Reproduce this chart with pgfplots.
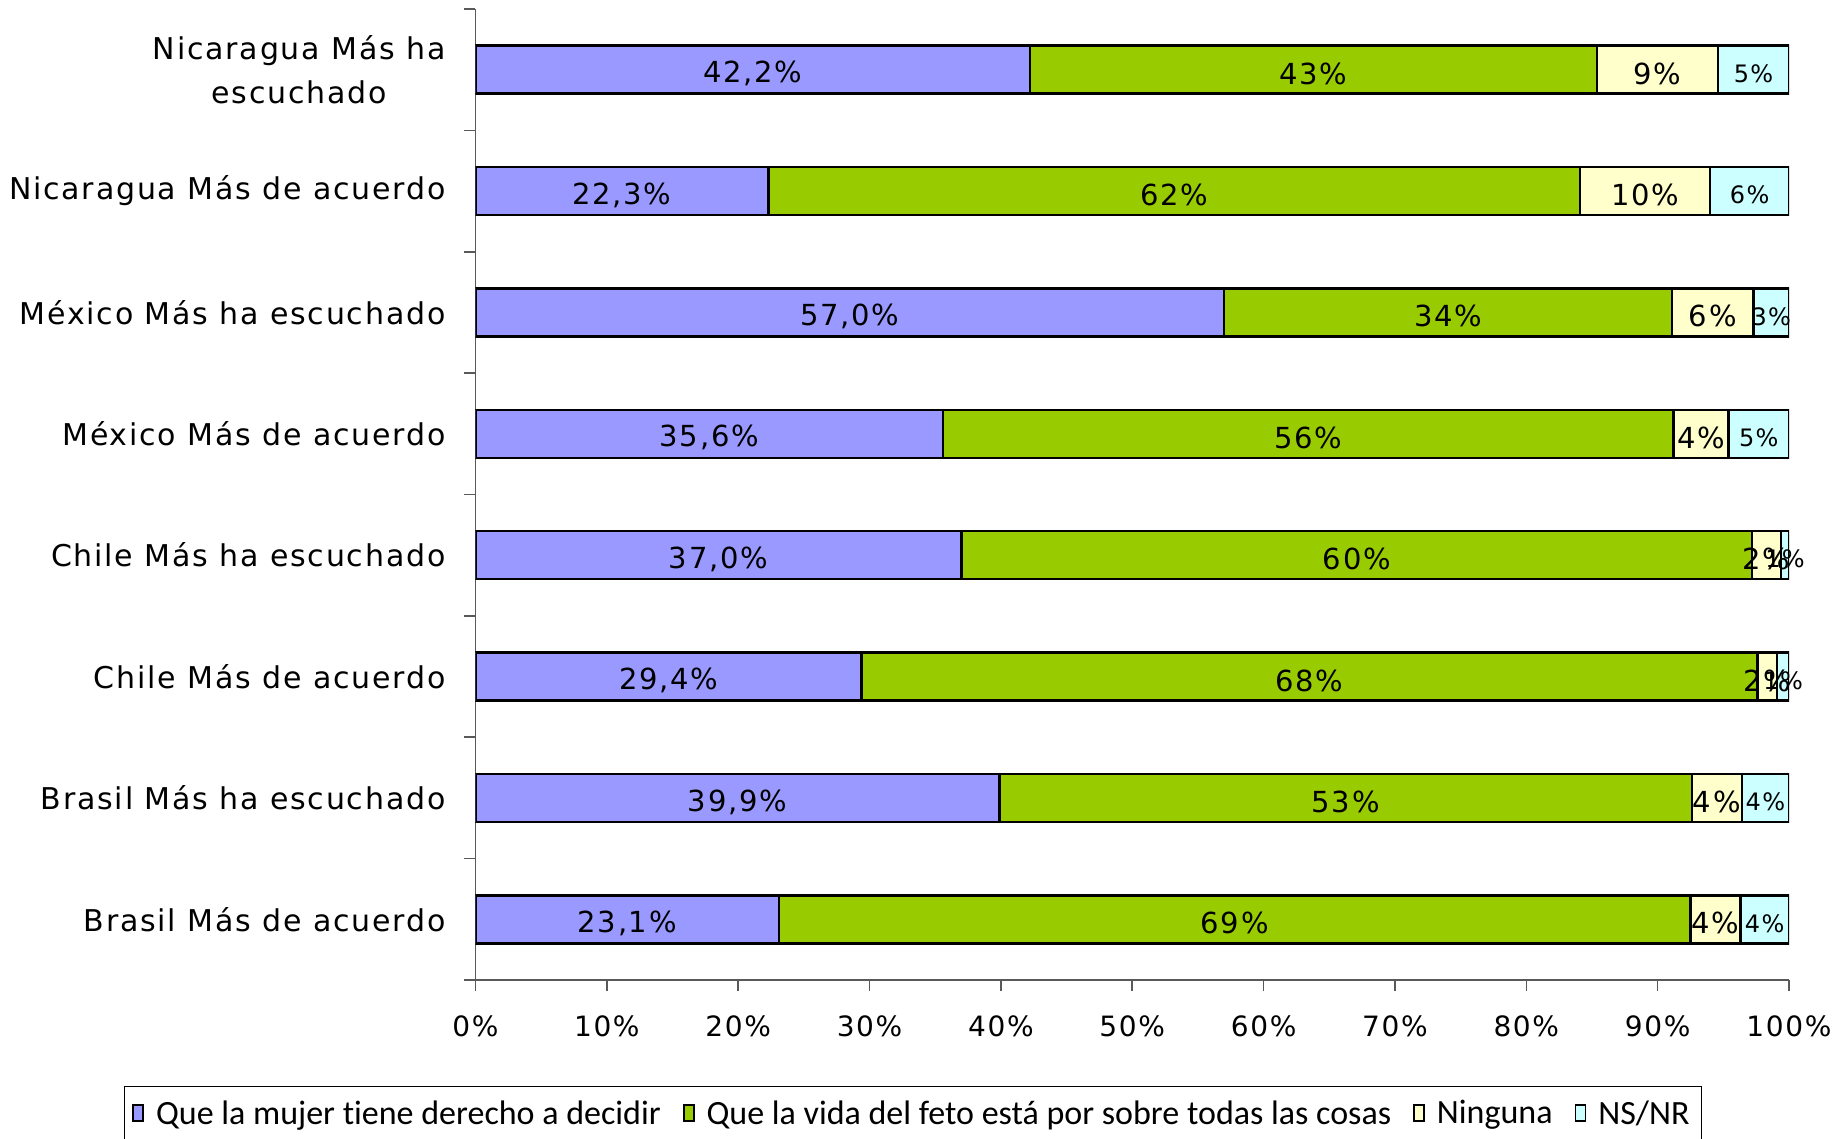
\documentclass[border=0pt]{standalone}
\usepackage{fontspec}
\setmainfont[LetterSpace=6]{DejaVu Sans}
\newfontfamily\legfont[Ligatures=NoCommon]{Carlito}
\usepackage{pgfplots}
\pgfplotsset{compat=1.18}

\definecolor{cdecide}{HTML}{9999FF}
\definecolor{cfeto}{HTML}{99CC00}
\definecolor{cning}{HTML}{FFFFCC}
\definecolor{cnsnr}{HTML}{CCFFFF}

\begin{document}
\begin{tikzpicture}
\path[use as bounding box] (-237.75pt,-79.5pt) rectangle (682.75pt,490pt);
\begin{axis}[
  xbar stacked,
  scale only axis,
  width=656.75pt, height=485.5pt,
  xmin=0, xmax=100,
  ymin=-0.5, ymax=7.5,
  bar width=24pt,
  axis x line*=bottom,
  axis y line*=left,
  axis line style={black!65, line width=0.8pt},
  tick align=outside,
  major tick length=5.5pt,
  xtick={0,10,...,100},
  xticklabel={\pgfmathprintnumber{\tick}\%},
  tick style={black!65, line width=0.8pt},
  ytick={-0.5,0.5,...,7.5},
  y tick label as interval,
  yticklabels={Brasil Más de acuerdo, Brasil Más ha escuchado, Chile Más de acuerdo, Chile Más ha escuchado, México Más de acuerdo, México Más ha escuchado, Nicaragua Más de acuerdo, {Nicaragua Más ha\\escuchado}},
  yticklabel style={align=center, xshift=-6pt, font=\fontsize{15}{22}\selectfont},
  xticklabel style={yshift=-9pt, font=\fontsize{14}{17}\selectfont},
  /pgf/number format/assume math mode=true,
  every axis plot/.append style={draw=black, line width=1.2pt},
  every node near coord/.append style={anchor=center, yshift=-2pt, font=\fontsize{14.5}{16}\selectfont, text=black},
  legend style={at={(0.333,-0.109)}, anchor=north, legend columns=-1, draw=black, line width=0.6pt,
    font=\legfont\fontsize{17}{19}\selectfont, inner xsep=4pt, inner ysep=5pt,
    /tikz/every odd column/.append style={column sep=4pt},
    /tikz/every even column/.append style={column sep=9pt}},
  legend image code/.code={\draw[#1, draw=black, line width=0.9pt] (0pt,-3.5pt) rectangle (5pt,4.5pt);},
]
\addplot[fill=cdecide, nodes near coords={\pgfmathprintnumber[fixed,fixed zerofill,precision=1,use comma]{\pgfplotspointmeta}\%}]
  coordinates {(23.1,0) (39.9,1) (29.4,2) (37.0,3) (35.6,4) (57.0,5) (22.3,6) (42.2,7)};
\addplot[fill=cfeto, nodes near coords={\pgfmathprintnumber[fixed,precision=0]{\pgfplotspointmeta}\%}]
  coordinates {(69.4,0) (52.7,1) (68.2,2) (60.2,3) (55.6,4) (34.1,5) (61.8,6) (43.2,7)};
\addplot[fill=cning, nodes near coords={\pgfmathprintnumber[fixed,precision=0]{\pgfplotspointmeta}\%}]
  coordinates {(3.8,0) (3.8,1) (1.5,2) (2.2,3) (4.2,4) (6.2,5) (9.9,6) (9.2,7)};
\addplot[fill=cnsnr, nodes near coords={\pgfmathprintnumber[fixed,precision=0]{\pgfplotspointmeta}\%},
  every node near coord/.append style={font=\fontsize{12}{14}\selectfont}]
  coordinates {(3.7,0) (3.6,1) (0.9,2) (0.6,3) (4.6,4) (2.7,5) (6.0,6) (5.4,7)};
\legend{Que la mujer tiene derecho a decidir, Que la vida del feto está por sobre todas las cosas, Ninguna, NS/NR}
\end{axis}
\end{tikzpicture}
\end{document}
